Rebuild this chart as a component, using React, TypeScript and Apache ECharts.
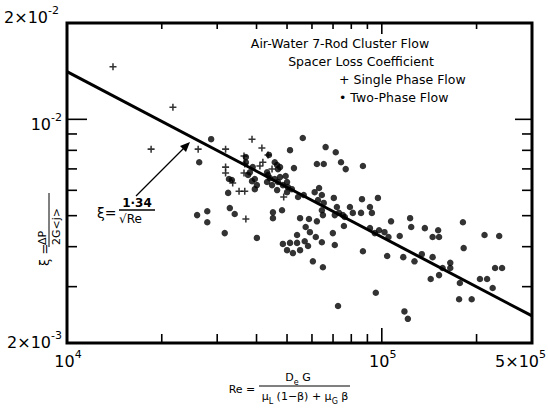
import React, { useEffect, useRef } from "react";
import * as echarts from "echarts";

// ---- data ----
const X_MIN = 10000;
const X_MAX = 300000;
const Y_MIN = 0.002;
const Y_MAX = 0.02;

const singlePhase: [number, number][] = [
  [14000, 0.0146], [21700, 0.0109], [18500, 0.00807], [26100, 0.00807], [31900, 0.00807],
  [38700, 0.00867], [41600, 0.00813], [31900, 0.00709], [31900, 0.0068], [36500, 0.00768],
  [36500, 0.0068], [41900, 0.00734], [41000, 0.00715], [43500, 0.00774], [33600, 0.00632],
  [35200, 0.00596], [36700, 0.00596], [37000, 0.00488], [48800, 0.00572], [36700, 0.00725],
  [44800, 0.00699],
];

const twoPhase: [number, number][] = [
  [28700, 0.00867], [26300, 0.00734], [32700, 0.00651], [32500, 0.00589], [32900, 0.00528],
  [34100, 0.00506], [25900, 0.00502], [27900, 0.00516], [27900, 0.00477], [31700, 0.00441],
  [40100, 0.00426], [37000, 0.00762], [37000, 0.00734], [38900, 0.00709], [38100, 0.00683],
  [39500, 0.00651], [39500, 0.00605], [43800, 0.00774], [45700, 0.00734], [46500, 0.0072],
  [46800, 0.00699], [43200, 0.00683], [44100, 0.00655], [45700, 0.00651], [47500, 0.0066],
  [49500, 0.00665], [50000, 0.00637], [44800, 0.00623], [46500, 0.00601], [51100, 0.00801],
  [56100, 0.00874], [52600, 0.00704], [51800, 0.00605], [54200, 0.00572], [56500, 0.0058],
  [61200, 0.00592], [63200, 0.0061], [64500, 0.0058], [62700, 0.00559], [65400, 0.00548],
  [70400, 0.00568], [72000, 0.00532], [64500, 0.0052], [73100, 0.0051], [45100, 0.00512],
  [48200, 0.0052], [45100, 0.00491], [53800, 0.00435], [55000, 0.00491], [58700, 0.00488],
  [62200, 0.0048], [57300, 0.00461], [59100, 0.00444], [61700, 0.00429], [56900, 0.00416],
  [58300, 0.00402], [55000, 0.0039], [52200, 0.00382], [51100, 0.00411], [48500, 0.00408],
  [50000, 0.0039], [53800, 0.00411], [60400, 0.0036], [65000, 0.00345], [70900, 0.00405],
  [69900, 0.00441], [66300, 0.00819], [71400, 0.00789], [74200, 0.00734], [76800, 0.00699],
  [87100, 0.00715], [62200, 0.00725], [65400, 0.00725], [86500, 0.00563], [97200, 0.00568],
  [79200, 0.00532], [80900, 0.0051], [91700, 0.00532], [93000, 0.0051], [75200, 0.00502],
  [70900, 0.00502], [65000, 0.00502], [76300, 0.00495], [85900, 0.0051], [75800, 0.00464],
  [91700, 0.00457], [95000, 0.00441], [98000, 0.0045], [102000, 0.00444], [105000, 0.00429],
  [107000, 0.0048], [114000, 0.00432], [123000, 0.00491], [124000, 0.00461], [137000, 0.00457],
  [145000, 0.00429], [151000, 0.0045], [152000, 0.00429], [181000, 0.00477], [212000, 0.00435],
  [236000, 0.00432], [182000, 0.00396], [87100, 0.00387], [104000, 0.00374], [117000, 0.00371],
  [127000, 0.0036], [134000, 0.00379], [145000, 0.00371], [156000, 0.00343], [165000, 0.00356],
  [165000, 0.00343], [143000, 0.00317], [152000, 0.00326], [177000, 0.00308], [205000, 0.00317],
  [216000, 0.00317], [225000, 0.00297], [229000, 0.00343], [241000, 0.00343], [176000, 0.00274],
  [193000, 0.00274], [95700, 0.00287], [72600, 0.00261], [118000, 0.00251], [121000, 0.00238],
  [64500, 0.00413], [47500, 0.00709], [43500, 0.0067], [43200, 0.00637], [46800, 0.00637],
  [48500, 0.00623], [50300, 0.00614], [50000, 0.00592], [38700, 0.00641], [40100, 0.00623],
  [37600, 0.0067], [33400, 0.00646],
];

// correlation line  xi = 1.34 / sqrt(Re), as drawn
const fitLine: [number, number][] = [[10000, 0.0141], [300000, 0.00243]];

const xMinorTicks = [20000, 30000, 40000, 50000, 60000, 70000, 80000, 90000, 200000];
const xMajorTicks = [100000];
const yMinorTicks = [0.003, 0.004, 0.005, 0.006, 0.007, 0.008, 0.009];
const yMajorTicks = [0.01];

const xTickLabels = [
  { value: 10000, base: "10", sup: "4" },
  { value: 100000, base: "10", sup: "5" },
  { value: 300000, base: "5×10", sup: "5" },
];
const yTickLabels = [
  { value: 0.02, base: "2×10", sup: "-2" },
  { value: 0.01, base: "10", sup: "-2" },
  { value: 0.002, base: "2×10", sup: "-3" },
];

const titleLines = ["Air-Water 7-Rod Cluster Flow", "Spacer Loss Coefficient"];
const legendLines = ["+ Single Phase Flow", "• Two-Phase Flow"];

const FONT = "DejaVu Sans";

function xTickSeries(values: number[], lenBottom: number, lenTop: number) {
  return {
    type: "custom",
    silent: true,
    clip: false,
    z: 5,
    data: values.map((v) => [v, Y_MIN]),
    encode: { x: 0, y: 1 },
    renderItem: (_p: any, api: any) => {
      const b = api.coord([api.value(0), Y_MIN]);
      const t = api.coord([api.value(0), Y_MAX]);
      const style = { stroke: "#000", lineWidth: 1.6 };
      return {
        type: "group",
        children: [
          { type: "line", shape: { x1: b[0], y1: b[1], x2: b[0], y2: b[1] - lenBottom }, style },
          { type: "line", shape: { x1: t[0], y1: t[1], x2: t[0], y2: t[1] + lenTop }, style },
        ],
      };
    },
  };
}

function yTickSeries(values: number[], lenLeft: number, lenRight: number) {
  return {
    type: "custom",
    silent: true,
    clip: false,
    z: 5,
    data: values.map((v) => [X_MIN, v]),
    encode: { x: 0, y: 1 },
    renderItem: (_p: any, api: any) => {
      const l = api.coord([X_MIN, api.value(1)]);
      const r = api.coord([X_MAX, api.value(1)]);
      const style = { stroke: "#000", lineWidth: 1.6 };
      return {
        type: "group",
        children: [
          { type: "line", shape: { x1: l[0], y1: l[1], x2: l[0] + lenLeft, y2: l[1] }, style },
          { type: "line", shape: { x1: r[0], y1: r[1], x2: r[0] - lenRight, y2: r[1] }, style },
        ],
      };
    },
  };
}

function buildOption(): any {
  return {
    animation: false,
    backgroundColor: "#fff",
    textStyle: { fontFamily: FONT },
    grid: {
      left: 67,
      right: 16,
      top: 23,
      bottom: 65,
      show: true,
      borderColor: "#000",
      borderWidth: 3,
      backgroundColor: "transparent",
      outerBoundsMode: "none",
    },
    xAxis: {
      type: "log",
      logBase: 10,
      min: X_MIN,
      max: X_MAX,
      axisLine: { show: false },
      axisTick: { show: false },
      axisLabel: { show: false },
      splitLine: { show: false },
      minorTick: { show: false },
    },
    yAxis: {
      type: "log",
      logBase: 10,
      min: Y_MIN,
      max: Y_MAX,
      axisLine: { show: false },
      axisTick: { show: false },
      axisLabel: { show: false },
      splitLine: { show: false },
      minorTick: { show: false },
    },
    series: [
      {
        type: "line",
        data: fitLine,
        symbol: "none",
        lineStyle: { color: "#000", width: 3 },
        z: 3,
      },
      {
        type: "scatter",
        data: twoPhase,
        symbol: "circle",
        symbolSize: 6.5,
        itemStyle: { color: "#000" },
        z: 4,
      },
      {
        type: "scatter",
        data: singlePhase,
        symbol: "path://M-1.1,-5H1.1V-1.1H5V1.1H1.1V5H-1.1V1.1H-5V-1.1H-1.1Z",
        symbolSize: 7,
        itemStyle: { color: "#000" },
        z: 4,
      },
      xTickSeries(xMinorTicks, 9, 6),
      xTickSeries(xMajorTicks, 15, 11),
      yTickSeries(yMinorTicks, 10, 10),
      yTickSeries(yMajorTicks, 20, 17),
    ],
  };
}

function supText(base: string, sup: string) {
  return `{b|${base}}{s|${sup}}`;
}

const supRich = {
  b: { fontSize: 16, fontFamily: FONT, fill: "#000", color: "#000", lineHeight: 20, verticalAlign: "bottom" },
  s: { fontSize: 11, fontFamily: FONT, fill: "#000", color: "#000", lineHeight: 20, verticalAlign: "top" },
};

function buildGraphics(chart: any): any[] {
  const gx = (v: number) => chart.convertToPixel({ xAxisIndex: 0 }, v) as number;
  const gy = (v: number) => chart.convertToPixel({ yAxisIndex: 0 }, v) as number;
  const g: any[] = [];
  const x0 = gx(X_MIN);
  const yb = gy(Y_MIN);

  const xdx = [1, 1, 0];
  const xAlign = ["center", "center", "right"];
  xTickLabels.forEach((t, i) => {
    g.push({
      type: "text",
      silent: true,
      style: {
        text: supText(t.base, t.sup),
        rich: supRich,
        x: i === 2 ? 546 : gx(t.value) + xdx[i],
        y: yb + 16,
        align: xAlign[i],
        verticalAlign: "middle",
      },
    });
  });
  const ydy = [-8, 3, -3];
  const ydx = [-8, -5, -5];
  yTickLabels.forEach((t, i) => {
    g.push({
      type: "text",
      silent: true,
      style: {
        text: supText(t.base, t.sup),
        rich: supRich,
        x: x0 + ydx[i],
        y: gy(t.value) + ydy[i],
        align: "right",
        verticalAlign: "middle",
      },
    });
  });

  // title block
  const tStyle = { fontSize: 12.5, fontFamily: FONT, fill: "#000" };
  g.push({ type: "text", silent: true, style: { ...tStyle, text: titleLines[0], x: 340, y: 43, align: "center", verticalAlign: "middle" } });
  g.push({ type: "text", silent: true, style: { ...tStyle, text: titleLines[1], x: 361, y: 61, align: "center", verticalAlign: "middle" } });
  g.push({ type: "text", silent: true, style: { ...tStyle, text: legendLines[0], x: 339, y: 79, align: "left", verticalAlign: "middle" } });
  g.push({ type: "text", silent: true, style: { ...tStyle, text: legendLines[1], x: 339, y: 97, align: "left", verticalAlign: "middle" } });

  // correlation annotation
  const aStyle = { fontFamily: FONT, fill: "#000" };
  g.push({ type: "text", silent: true, style: { ...aStyle, fontSize: 14, text: "ξ=", x: 97, y: 213, align: "left", verticalAlign: "middle" } });
  g.push({ type: "text", silent: true, style: { ...aStyle, fontSize: 12, fontWeight: "bold", text: "1·34", x: 137, y: 203, align: "center", verticalAlign: "middle" } });
  g.push({ type: "line", silent: true, shape: { x1: 119, y1: 210, x2: 155, y2: 210 }, style: { stroke: "#000", lineWidth: 1.5 } });
  g.push({ type: "text", silent: true, style: { ...aStyle, fontSize: 12, text: "√Re", x: 119, y: 219, align: "left", verticalAlign: "middle" } });
  g.push({ type: "line", silent: true, shape: { x1: 136, y1: 196, x2: 185, y2: 147 }, style: { stroke: "#000", lineWidth: 1.3 } });
  g.push({ type: "polygon", silent: true, shape: { points: [[190, 142], [186, 152], [180, 146]] }, style: { fill: "#000" } });

  // y-axis title (rotated)
  g.push({
    type: "group",
    silent: true,
    x: 49,
    y: 266,
    rotation: Math.PI / 2,
    children: [
      { type: "text", style: { ...aStyle, fontSize: 13, text: "ξ =", x: 0, y: -5, align: "left", verticalAlign: "middle" } },
      { type: "line", shape: { x1: 19, y1: 0, x2: 73, y2: 0 }, style: { stroke: "#000", lineWidth: 1 } },
      { type: "text", style: { ...aStyle, fontSize: 11, text: "ΔP", x: 21, y: -1, align: "left", verticalAlign: "bottom" } },
      { type: "text", style: { ...aStyle, fontSize: 11, text: "2G<j>", x: 21, y: 2, align: "left", verticalAlign: "top" } },
    ],
  });

  // x-axis title
  const subRich = {
    n: { fontSize: 11, fontFamily: FONT, fill: "#000", color: "#000", lineHeight: 14, verticalAlign: "top" },
    u: { fontSize: 8, fontFamily: FONT, fill: "#000", color: "#000", lineHeight: 14, verticalAlign: "bottom" },
  };
  g.push({ type: "text", silent: true, style: { ...aStyle, fontSize: 11, text: "Re =", x: 242, y: 389, align: "center", verticalAlign: "middle" } });
  g.push({ type: "text", silent: true, style: { text: "{n|D}{u|e}{n| G}", rich: subRich, x: 298, y: 379, align: "center", verticalAlign: "middle" } });
  g.push({ type: "line", silent: true, shape: { x1: 259, y1: 386, x2: 350, y2: 386 }, style: { stroke: "#000", lineWidth: 1 } });
  g.push({ type: "text", silent: true, style: { text: "{n|μ}{u|L}{n| (1−β) + μ}{u|G}{n| β}", rich: subRich, x: 305, y: 398, align: "center", verticalAlign: "middle" } });

  return g;
}

export default function App() {
  const ref = useRef<HTMLDivElement>(null);
  useEffect(() => {
    if (!ref.current) return;
    const chart = echarts.init(ref.current, null, { renderer: "svg" });
    chart.setOption(buildOption());
    chart.setOption({ graphic: buildGraphics(chart) });
    return () => chart.dispose();
  }, []);
  return (
    <div
      ref={ref}
      style={{ position: "fixed", left: 0, top: 0, width: 548, height: 408, background: "#fff" }}
    />
  );
}
